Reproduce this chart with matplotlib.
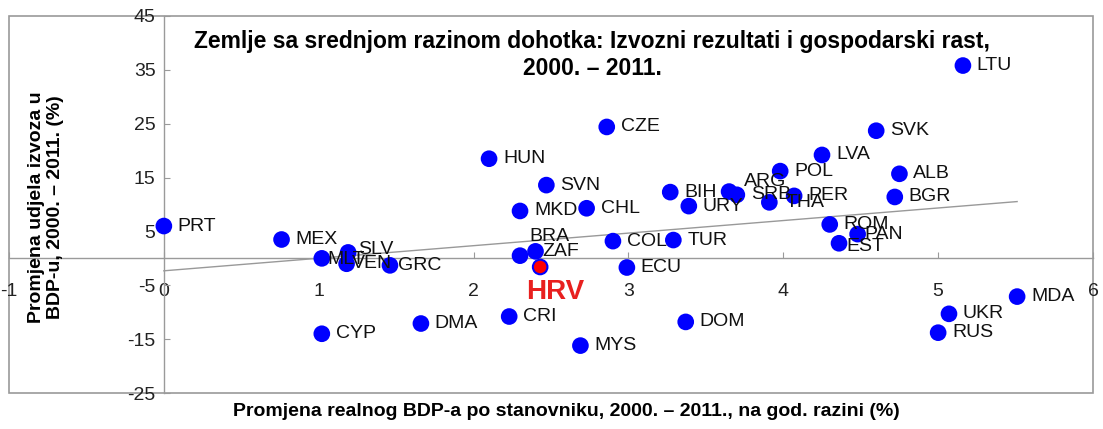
import matplotlib
matplotlib.use("Agg")
import matplotlib.pyplot as plt
from matplotlib.patches import Rectangle
import numpy as np

plt.rcParams['font.family'] = ['Liberation Sans', 'DejaVu Sans']
plt.rcParams['axes.unicode_minus'] = False

# Podaci (procjena s grafikona)
zemlje = ['PRT', 'MEX', 'MLT', 'SLV', 'VEN', 'GRC', 'CYP', 'DMA', 'HUN', 'SVN',
          'MKD', 'CHL', 'CZE', 'BRA', 'ZAF', 'HRV', 'COL', 'TUR', 'ECU', 'CRI',
          'MYS', 'DOM', 'BIH', 'URY', 'ARG', 'SRB', 'POL', 'THA', 'PER', 'LVA',
          'SVK', 'ALB', 'BGR', 'ROM', 'PAN', 'EST', 'MDA', 'UKR', 'RUS', 'LTU']
rast_bdp = [0.0, 0.76, 1.02, 1.19, 1.18, 1.46, 1.02, 1.66, 2.10, 2.47,
            2.30, 2.73, 2.86, 2.30, 2.40, 2.43, 2.90, 3.29, 2.99, 2.23,
            2.69, 3.37, 3.27, 3.39, 3.65, 3.70, 3.98, 3.91, 4.07, 4.25,
            4.60, 4.75, 4.72, 4.30, 4.48, 4.36, 5.51, 5.07, 5.00, 5.16]
promjena_izvoza = [6.0, 3.5, 0.0, 1.1, -1.0, -1.3, -14.0, -12.1, 18.5, 13.6,
                   8.8, 9.3, 24.4, 0.5, 1.3, -1.6, 3.2, 3.4, -1.7, -10.8,
                   -16.2, -11.8, 12.3, 9.7, 12.4, 11.8, 16.2, 10.4, 11.6, 19.2,
                   23.7, 15.7, 11.4, 6.3, 4.5, 2.8, -7.1, -10.3, -13.8, 35.8]

x_ticks = [-1, 0, 1, 2, 3, 4, 5, 6]
y_ticks = [-25, -15, -5, 5, 15, 25, 35, 45]

# pomaci oznaka (u točkama) za zemlje koje se preklapaju
pomaci = {'BRA': (7, 14), 'ZAF': (5, 0), 'ARG': (11, 7), 'MLT': (4, -1),
          'VEN': (4, 0), 'GRC': (6, 0), 'EST': (5, -2), 'PAN': (5, 0),
          'THA': (12, 0), 'SLV': (7, 2)}

fig = plt.figure(figsize=(11.03, 4.29), dpi=100)
ax = fig.add_axes([9 / 1103, 36 / 429, 1084 / 1103, 377 / 429])
ax.set_xlim(-1, 6)
ax.set_ylim(-25, 45)

siva = '#9a9a9a'
for s in ['top', 'right']:
    ax.spines[s].set_visible(False)
ax.spines['left'].set_position(('data', 0))
ax.spines['bottom'].set_position(('data', 0))
ax.spines['left'].set_color(siva)
ax.spines['bottom'].set_color(siva)
ax.spines['left'].set_linewidth(1)
ax.spines['bottom'].set_linewidth(1)
ax.add_patch(Rectangle((0, 0), 1, 1, transform=ax.transAxes, fill=False,
                       edgecolor=siva, linewidth=1.2, clip_on=False))

ax.set_xticks(x_ticks)
ax.set_yticks(y_ticks)
ax.tick_params(axis='both', direction='in', length=4, color=siva,
               labelsize=14, labelcolor='#222222')
ax.tick_params(axis='x', pad=18)
ax.tick_params(axis='y', pad=6)

# trend
x = np.array(rast_bdp)
y = np.array(promjena_izvoza)
k, b = np.polyfit(x, y, 1)
xt = np.array([0, x.max()])
ax.plot(xt, k * xt + b, color='#999999', linewidth=1, zorder=1)

boje = ['red' if z == 'HRV' else 'blue' for z in zemlje]
ax.scatter(x, y, s=110, c=boje, edgecolors='blue', linewidths=1.5, zorder=3)

for z, xi, yi in zip(zemlje, rast_bdp, promjena_izvoza):
    if z == 'HRV':
        ax.annotate('HRV', (xi, yi), xytext=(11, -18), textcoords='offset points',
                    ha='center', va='center', fontsize=20, fontweight='bold',
                    color='#e8201f', zorder=4)
        continue
    dx, dy = pomaci.get(z, (10, 0))
    ax.annotate(z, (xi, yi), xytext=(dx, dy), textcoords='offset points',
                ha='left', va='center', fontsize=14, color='#111111', zorder=4)

fig.text(592 / 1103, 1 - 55 / 429,
         'Zemlje sa srednjom razinom dohotka: Izvozni rezultati i gospodarski rast,\n2000. – 2011.',
         ha='center', va='center', fontsize=16.5, fontweight='bold', linespacing=1.2)
fig.text(566 / 1103, 1 - 412 / 429,
         'Promjena realnog BDP-a po stanovniku, 2000. – 2011., na god. razini (%)',
         ha='center', va='center', fontsize=14, fontweight='bold')
fig.text(46 / 1103, 1 - 207 / 429,
         'Promjena udjela izvoza u\nBDP-u, 2000. – 2011. (%)',
         ha='center', va='center', rotation=90, fontsize=14, fontweight='bold',
         linespacing=1.15)

fig.savefig('out.png', dpi=100)
